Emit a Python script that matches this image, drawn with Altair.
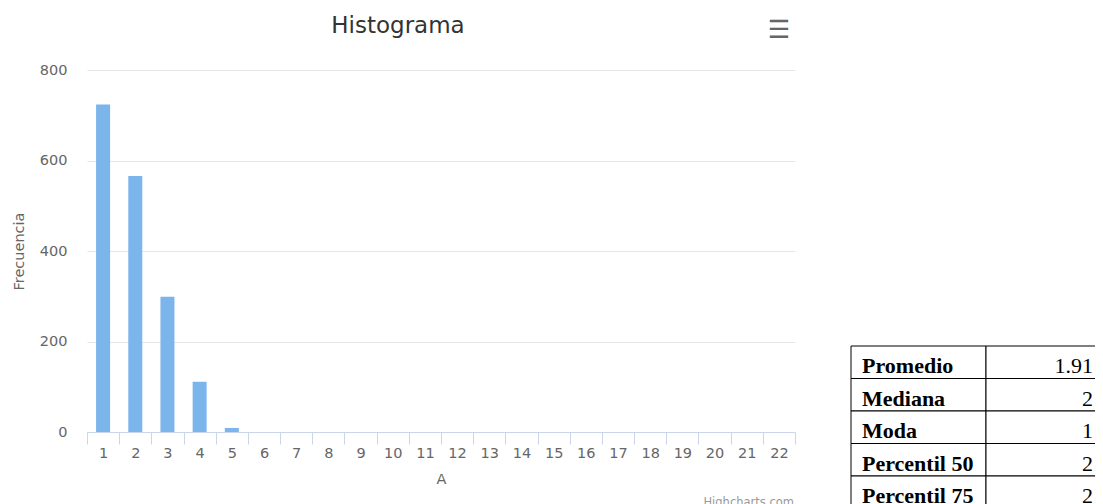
import altair as alt
import pandas as pd

# ---- data ----
categorias = [1, 2, 3, 4, 5, 6, 7, 8, 9, 10, 11, 12, 13, 14, 15, 16, 17, 18, 19, 20, 21, 22]
frecuencia = [724, 566, 299, 111, 9, 0, 0, 0, 0, 0, 0, 0, 0, 0, 0, 0, 0, 0, 0, 0, 0, 0]
y_ticks = [0, 200, 400, 600, 800]

estadisticos = ["Promedio", "Mediana", "Moda", "Percentil 50", "Percentil 75"]
valores_est = ["1.91", "2", "1", "2", "2"]

FONT = "DejaVu Sans"
GRAY = "#666666"

hist_df = pd.DataFrame({"A": categorias, "Frecuencia": frecuencia})
tbl_df = pd.DataFrame({"stat": estadisticos, "valor": valores_est})

bars = alt.Chart(hist_df).mark_bar(color="#7cb5ec", width=14).encode(
    x=alt.X(
        "A:O",
        sort=categorias,
        scale=alt.Scale(paddingInner=0, paddingOuter=0),
        axis=alt.Axis(
            title="A",
            labelAngle=0,
            tickBand="extent",
            tickSize=12,
            tickColor="#ccd6eb",
            domainColor="#ccd6eb",
            labelPadding=2,
            labelFont=FONT,
            labelFontSize=14.5,
            labelColor=GRAY,
            titleFont=FONT,
            titleFontSize=14.5,
            titleFontWeight="normal",
            titleColor=GRAY,
            titlePadding=13,
            grid=False,
        ),
    ),
    y=alt.Y(
        "Frecuencia:Q",
        scale=alt.Scale(domain=[0, 800], nice=False),
        axis=alt.Axis(
            title="Frecuencia",
            values=y_ticks,
            domain=False,
            ticks=False,
            tickSize=0,
            labelPadding=20,
            labelFont=FONT,
            labelFontSize=14.5,
            labelColor=GRAY,
            titleFont=FONT,
            titleFontSize=14.5,
            titleFontWeight="normal",
            titleColor=GRAY,
            titlePadding=13,
            gridColor="#e6e6e6",
            gridWidth=1,
        ),
    ),
)

ysc = alt.Scale(domain=estadisticos, range=[276, 438.5], paddingInner=0, paddingOuter=0)

cell_lbl = alt.Chart(tbl_df).mark_rect(fill="white", stroke="black", strokeWidth=1).encode(
    y=alt.Y("stat:N", scale=ysc, axis=None),
    x=alt.value(764),
    x2=alt.value(899),
)
cell_val = alt.Chart(tbl_df).mark_rect(fill="white", stroke="black", strokeWidth=1).encode(
    y=alt.Y("stat:N", scale=ysc, axis=None),
    x=alt.value(899),
    x2=alt.value(1060),
)
txt_lbl = alt.Chart(tbl_df).mark_text(
    align="left", baseline="middle", font="Liberation Serif", fontWeight="bold",
    fontSize=22, color="black", dy=4,
).encode(
    y=alt.Y("stat:N", scale=ysc, axis=None),
    x=alt.value(775),
    text="stat:N",
)
txt_val = alt.Chart(tbl_df).mark_text(
    align="right", baseline="middle", font="Liberation Serif",
    fontSize=22, color="black", dy=4,
).encode(
    y=alt.Y("stat:N", scale=ysc, axis=None),
    x=alt.value(1006),
    text="valor:N",
)

menu = alt.Chart(pd.DataFrame({"t": ["☰"]})).mark_text(
    align="center", baseline="middle", font=FONT, fontWeight="bold", fontSize=25, color="#666666",
).encode(x=alt.value(692), y=alt.value(-40.5), text="t:N")

credit = alt.Chart(pd.DataFrame({"t": ["Highcharts.com"]})).mark_text(
    align="right", baseline="top", font=FONT, fontSize=11.5, color="#999999",
).encode(x=alt.value(707), y=alt.value(427), text="t:N")

chart = (
    alt.layer(bars, cell_lbl, cell_val, txt_lbl, txt_val, menu, credit)
    .resolve_scale(y="independent")
    .properties(
        width=708,
        height=362,
        background="white",
        autosize=alt.AutoSizeParams(type="none"),
        padding={"left": 79, "top": 62, "right": 300, "bottom": 72},
        title=alt.Title(
            "Histograma",
            font=FONT,
            fontSize=23,
            fontWeight="normal",
            color="#333333",
            anchor="middle",
            dx=-43,
            offset=0,
            dy=20,
        ),
    )
    .configure_view(stroke="transparent")
)

chart.save("out.html", embed_options={"renderer": "svg", "actions": False})
